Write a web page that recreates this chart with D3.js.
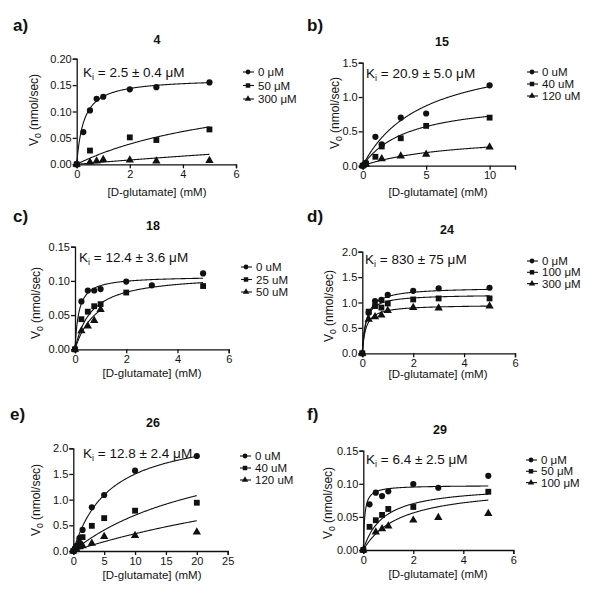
<!DOCTYPE html>
<html><head><meta charset="utf-8">
<script src="https://cdn.jsdelivr.net/npm/d3@7/dist/d3.min.js"></script>
<style>body{margin:0;background:#fff} text{font-family:"Liberation Sans",Arial,sans-serif;fill:#111}</style>
</head><body><svg id="chart" width="600" height="600"></svg>
<script>
// ---------- DATA ----------
const panelLetters = ["a)","b)","c)","d)","e)","f)"];
const compoundTitles = ["4","15","18","24","26","29"];
const kiValues = ["2.5 ± 0.4 μM","20.9 ± 5.0 μM","12.4 ± 3.6 μM","830 ± 75 μM","12.8 ± 2.4 μM","6.4 ± 2.5 μM"];
const legendLabels = [
  ["0 μM","50 μM","300 μM"],
  ["0 uM","40 uM","120 uM"],
  ["0 uM","25 uM","50 uM"],
  ["0 μM","100 μM","300 μM"],
  ["0 uM","40 uM","120 uM"],
  ["0 μM","50 μM","100 μM"]
];
const xDomainMax = [6,12,6,6,25,6];
const yDomainMax = [0.20,1.5,0.15,2.0,2.0,0.15];
const xTickValues = [[0,2,4,6],[0,5,10],[0,2,4,6],[0,2,4,6],[0,5,10,15,20,25],[0,2,4,6]];
const yTickValues = [[0,0.05,0.10,0.15,0.20],[0,0.5,1.0,1.5],[0,0.05,0.10,0.15],[0,0.5,1.0,1.5,2.0],[0,0.5,1.0,1.5,2.0],[0,0.05,0.10,0.15]];
const yTickFormats = [".2f",".1f",".2f",".1f",".1f",".2f"];

// panel a (compound 4)
const a_x0 = [0,0.25,0.5,0.75,1,2,3,5],  a_y0 = [0,0.061,0.102,0.124,0.128,0.142,0.146,0.155];
const a_x1 = [0,0.5,2,3,5],              a_y1 = [0,0.026,0.051,0.046,0.066];
const a_x2 = [0,0.5,0.75,1,2,3,5],       a_y2 = [0,0.004,0.006,0.009,0.008,0.006,0.007];
const a_fitVmax = [0.163,0.163,0.163],   a_fitKm = [0.27,6.5,38];
// panel b (compound 15)
const b_x0 = [0,0.25,1,1.5,3,5,10],      b_y0 = [0,0.04,0.42,0.31,0.70,0.76,1.17];
const b_x1 = [0,0.25,1,1.5,3,5,10],      b_y1 = [0,0.03,0.13,0.28,0.40,0.58,0.70];
const b_x2 = [0,0.25,1.5,3,5,10],        b_y2 = [0,0.02,0.10,0.14,0.165,0.27];
const b_fitVmax = [1.70,0.98,0.47],      b_fitKm = [4.75,3.6,7.3];
// panel c (compound 18)
const c_x0 = [0,0.25,0.5,0.75,1,2,3,5],  c_y0 = [0,0.070,0.086,0.086,0.088,0.099,0.0935,0.111];
const c_x1 = [0,0.25,0.5,0.75,1,2,5],    c_y1 = [0,0.044,0.055,0.063,0.066,0.083,0.0925];
const c_x2 = [0,0.25,0.5,0.75,1],        c_y2 = [0,0.027,0.034,0.042,0.058];
const c_fitVmax = [0.107,0.110,0.109],   c_fitKm = [0.15,0.64,0.9];
// panel d (compound 24)
const d_x0 = [0,0.25,0.5,0.75,1,2,3,5],  d_y0 = [0,0.80,1.03,1.05,1.15,1.23,1.28,1.29];
const d_x1 = [0,0.25,0.5,0.75,1,2,3,5],  d_y1 = [0,0.82,0.93,0.90,0.98,1.06,1.08,1.08];
const d_x2 = [0,0.25,0.5,0.75,1,2,3,5],  d_y2 = [0,0.67,0.72,0.75,0.84,0.90,0.89,0.93];
const d_fitVmax = [1.30,1.16,0.955],     d_fitKm = [0.164,0.13,0.137];
// panel e (compound 26)
const e_x0 = [0,0.25,0.5,1,1.5,3,5,10,20], e_y0 = [0,0.05,0.10,0.25,0.41,0.85,1.09,1.565,1.85];
const e_x1 = [0,0.5,1,1.5,3,5,10,20],      e_y1 = [0,0.05,0.14,0.27,0.49,0.64,0.785,0.94];
const e_x2 = [0,0.5,1,1.5,3,5,10,20],      e_y2 = [0,0.03,0.08,0.10,0.15,0.28,0.30,0.37];
const e_fitVmax = [2.39,2.39,2.39],        e_fitKm = [5.95,24.3,61];
// panel f (compound 29)
const f_x0 = [0,0.25,0.5,0.75,1,2,3,5],  f_y0 = [0,0.069,0.0866,0.0815,0.0886,0.0996,0.094,0.112];
const f_x1 = [0,0.25,0.5,0.75,1,2,5],    f_y1 = [0,0.035,0.045,0.053,0.062,0.065,0.088];
const f_x2 = [0,0.5,0.75,1,2,3,5],       f_y2 = [0,0.027,0.032,0.036,0.045,0.049,0.055];
const f_fitVmax = [0.0977,0.098,0.098],  f_fitKm = [0.055,0.8,1.5];

const panelSeriesX = [[a_x0,a_x1,a_x2],[b_x0,b_x1,b_x2],[c_x0,c_x1,c_x2],[d_x0,d_x1,d_x2],[e_x0,e_x1,e_x2],[f_x0,f_x1,f_x2]];
const panelSeriesY = [[a_y0,a_y1,a_y2],[b_y0,b_y1,b_y2],[c_y0,c_y1,c_y2],[d_y0,d_y1,d_y2],[e_y0,e_y1,e_y2],[f_y0,f_y1,f_y2]];
const panelFitVmax = [a_fitVmax,b_fitVmax,c_fitVmax,d_fitVmax,e_fitVmax,f_fitVmax];
const panelFitKm = [a_fitKm,b_fitKm,c_fitKm,d_fitKm,e_fitKm,f_fitKm];

// ---------- LAYOUT ----------
const layout = [
  {x0:76.7, x1:236,   y0:164.3, y1:58.7,  lab:[13,31],  title:[157,44],  ki:[83,77],   leg:[248,72,13.5], xl:[157,196], yl:[38,110]},
  {x0:362.7,x1:515,   y0:165.7, y1:62.7,  lab:[307,31], title:[442,46],  ki:[366,78],  leg:[532,72,12],   xl:[438,196], yl:[339,113]},
  {x0:75,   x1:228.7, y0:349.3, y1:246.7, lab:[13,222], title:[153,230], ki:[79,262],  leg:[246,267,12.5], xl:[152,377], yl:[40,303]},
  {x0:362.3,x1:515,   y0:353.3, y1:251.7, lab:[307,222],title:[447,234], ki:[365,264], leg:[532,261,11.3], xl:[438,378], yl:[333,306]},
  {x0:73.3, x1:227.7, y0:551,   y1:448.3, lab:[10,420], title:[153,427], ki:[83,458],  leg:[245,456,12],   xl:[152,579], yl:[40,500]},
  {x0:363.3,x1:513.3, y0:550,   y1:450.7, lab:[307,420],title:[440,434], ki:[366,464], leg:[531,460,11.3], xl:[438,578], yl:[332,503]}
];

const svg = d3.select("#chart");
const symbols = [d3.symbolCircle, d3.symbolSquare, d3.symbolTriangle];
const symSizes = [30, 34, 30];
const legSizes = [18, 20, 18];

layout.forEach((L, p) => {
  const g = svg.append("g");
  const x = d3.scaleLinear().domain([0, xDomainMax[p]]).range([L.x0, L.x1]);
  const y = d3.scaleLinear().domain([0, yDomainMax[p]]).range([L.y0, L.y1]);

  g.append("text").attr("x", L.lab[0]).attr("y", L.lab[1]).attr("font-size", 17).attr("font-weight", "bold").text(panelLetters[p]);
  g.append("text").attr("x", L.title[0]).attr("y", L.title[1]).attr("text-anchor", "middle").attr("font-size", 12.5).attr("font-weight", "bold").text(compoundTitles[p]);

  const xa = g.append("g").attr("transform", `translate(0,${L.y0})`)
    .call(d3.axisBottom(x).tickValues(xTickValues[p]).tickFormat(d3.format("d")).tickSizeOuter(0).tickSize(4).tickPadding(2));
  const ya = g.append("g").attr("transform", `translate(${L.x0},0)`)
    .call(d3.axisLeft(y).tickValues(yTickValues[p]).tickFormat(d3.format(yTickFormats[p])).tickSizeOuter(0).tickSize(4).tickPadding(1));
  [xa, ya].forEach(a => {
    a.selectAll("path,line").attr("stroke", "#111").attr("stroke-width", 1.3);
    a.selectAll("text").attr("font-size", 11).attr("fill", "#111").style("font-family", '"Liberation Sans",Arial,sans-serif');
  });

  g.append("text").attr("x", L.xl[0]).attr("y", L.xl[1]).attr("text-anchor", "middle").attr("font-size", 11.5).text("[D-glutamate] (mM)");
  const yl = g.append("text").attr("transform", `translate(${L.yl[0]},${L.yl[1]}) rotate(-90)`).attr("text-anchor", "middle").attr("font-size", 12);
  yl.append("tspan").text("V");
  yl.append("tspan").attr("font-size", 8.5).attr("dy", 3).text("0");
  yl.append("tspan").attr("dy", -3).text(" (nmol/sec)");

  const ki = g.append("text").attr("x", L.ki[0]).attr("y", L.ki[1]).attr("font-size", 13.5);
  ki.append("tspan").text("K");
  ki.append("tspan").attr("font-size", 9).attr("dy", 3).text("i");
  ki.append("tspan").attr("dy", -3).text(" = " + kiValues[p]);

  for (let s = 0; s < 3; s++) {
    const xs = panelSeriesX[p][s], ys = panelSeriesY[p][s];
    const Vm = panelFitVmax[p][s], Km = panelFitKm[p][s];
    const xmax = d3.max(xs);
    const curve = d3.range(0, 201).map(i => { const S = xmax * i / 200; return [S, Vm * S / (Km + S)]; });
    g.append("path").datum(curve)
      .attr("d", d3.line().x(d => x(d[0])).y(d => y(d[1])))
      .attr("fill", "none").attr("stroke", "#111").attr("stroke-width", 1.1);
    g.selectAll(null).data(xs.map((v, i) => [v, ys[i]])).enter().append("path")
      .attr("transform", d => `translate(${x(d[0])},${y(d[1])})`)
      .attr("d", d3.symbol().type(symbols[s]).size(symSizes[s]))
      .attr("fill", "#111");
  }

  for (let s = 0; s < 3; s++) {
    const ly = L.leg[1] + s * L.leg[2];
    g.append("line").attr("x1", L.leg[0] - 5).attr("x2", L.leg[0] + 6).attr("y1", ly).attr("y2", ly).attr("stroke", "#111").attr("stroke-width", 1.1);
    g.append("path").attr("transform", `translate(${L.leg[0]},${ly})`).attr("d", d3.symbol().type(symbols[s]).size(legSizes[s])).attr("fill", "#111");
    g.append("text").attr("x", L.leg[0] + 10).attr("y", ly + 4).attr("font-size", 11.5).text(legendLabels[p][s]);
  }
});
</script></body></html>
